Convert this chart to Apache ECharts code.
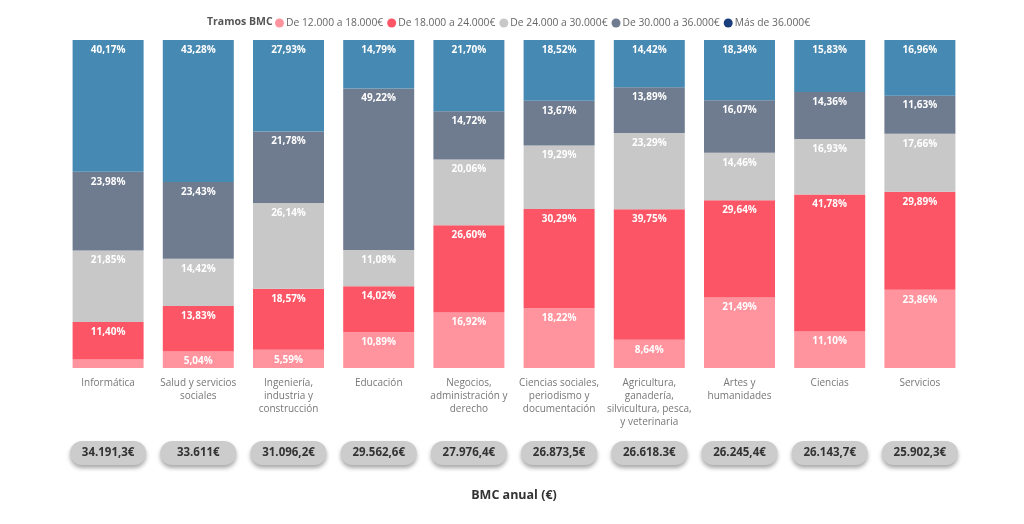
<!DOCTYPE html>
<html>
<head>
<meta charset="utf-8">
<script src="https://cdn.jsdelivr.net/npm/echarts@6/dist/echarts.min.js"></script>
<style>
  html, body { margin: 0; padding: 0; background: #fff; }
  #chart { width: 1024px; height: 524px; }
</style>
</head>
<body>
<div id="chart"></div>
<script>
// categorías (ramas de conocimiento)
var ramas = [
  "Informática",
  "Salud y servicios\nsociales",
  "Ingeniería,\nindustria y\nconstrucción",
  "Educación",
  "Negocios,\nadministración y\nderecho",
  "Ciencias sociales,\nperiodismo y\ndocumentación",
  "Agricultura,\nganadería,\nsilvicultura, pesca,\ny veterinaria",
  "Artes y\nhumanidades",
  "Ciencias",
  "Servicios"
];
var bmcAnual = ["34.191,3€", "33.611€", "31.096,2€", "29.562,6€", "27.976,4€",
  "26.873,5€", "26.618.3€", "26.245,4€", "26.143,7€", "25.902,3€"];

// tramos BMC (%)
var tramo12a18 = [2.60, 5.04, 5.59, 10.89, 16.92, 18.22, 8.64, 21.49, 11.10, 23.86];
var tramo18a24 = [11.40, 13.83, 18.57, 14.02, 26.60, 30.29, 39.75, 29.64, 41.78, 29.89];
var tramo24a30 = [21.85, 14.42, 26.14, 11.08, 20.06, 19.29, 23.29, 14.46, 16.93, 17.66];
var tramo30a36 = [23.98, 23.43, 21.78, 49.22, 14.72, 13.67, 13.89, 16.07, 14.36, 11.63];
var tramoMas36 = [40.17, 43.28, 27.93, 14.79, 21.70, 18.52, 14.42, 18.34, 15.83, 16.96];

var nombres = ["De 12.000 a 18.000€", "De 18.000 a 24.000€", "De 24.000 a 30.000€",
  "De 30.000 a 36.000€", "Más de 36.000€"];
var colores = ["#FF949E", "#FC5565", "#C8C8C8", "#6F7B8F", "#4689B2"];
var datos = [tramo12a18, tramo18a24, tramo24a30, tramo30a36, tramoMas36];

var fuente = "'Open Sans', 'Noto Sans', sans-serif";

var chart = echarts.init(document.getElementById("chart"));

var series = datos.map(function (d, i) {
  return {
    name: nombres[i],
    type: "bar",
    stack: "total",
    barWidth: 71,
    data: d,
    itemStyle: { color: colores[i] },
    label: {
      show: true,
      position: "insideTop",
      distance: 5,
      color: "#fff",
      fontFamily: fuente,
      fontWeight: "bold",
      fontSize: 10,
      formatter: function (p) {
        if (p.value < 3) return "";
        return p.value.toFixed(2).replace(".", ",") + "%";
      }
    }
  };
});

var option = {
  backgroundColor: "#fff",
  animation: false,
  title: {
    text: "Tramos BMC",
    left: 202,
    top: 12,
    textStyle: { fontFamily: fuente, fontSize: 10.5, fontWeight: "bold", color: "#555" }
  },
  legend: {
    left: 270,
    top: 13,
    icon: "circle",
    itemWidth: 9,
    itemHeight: 9,
    itemGap: 4,
    textStyle: { fontFamily: fuente, fontSize: 10.3, color: "#666", padding: [0, 0, 0, -3] },
    data: nombres.map(function (n, i) {
      // el punto del último tramo es azul oscuro en la leyenda
      return i === 4 ? { name: n, itemStyle: { color: "#1B3F7C" } } : { name: n };
    })
  },
  grid: { left: 63, right: 59, top: 40, bottom: 156 },
  xAxis: [
    {
      type: "category",
      data: ramas,
      axisLine: { show: false },
      axisTick: { show: false },
      axisLabel: {
        interval: 0,
        margin: 9,
        color: "#777",
        fontFamily: fuente,
        fontSize: 10,
        lineHeight: 13
      }
    },
    {
      type: "category",
      position: "bottom",
      data: bmcAnual,
      axisLine: { show: false },
      axisTick: { show: false },
      name: "BMC anual (€)",
      nameLocation: "middle",
      nameGap: 121,
      nameTextStyle: { fontFamily: fuente, fontSize: 12.5, fontWeight: "bold", color: "#333" },
      axisLabel: {
        interval: 0,
        margin: 73,
        color: "#333",
        fontFamily: fuente,
        fontWeight: "bold",
        fontSize: 11.5,
        backgroundColor: "#CCCCCC",
        borderRadius: 13,
        width: 64,
        align: "center",
        padding: [6, 6, 6, 6],
        shadowColor: "rgba(0,0,0,0.35)",
        shadowBlur: 4,
        shadowOffsetY: 3
      }
    }
  ],
  yAxis: { type: "value", min: 0, max: 100, show: false },
  series: series
};

chart.setOption(option);
</script>
</body>
</html>
